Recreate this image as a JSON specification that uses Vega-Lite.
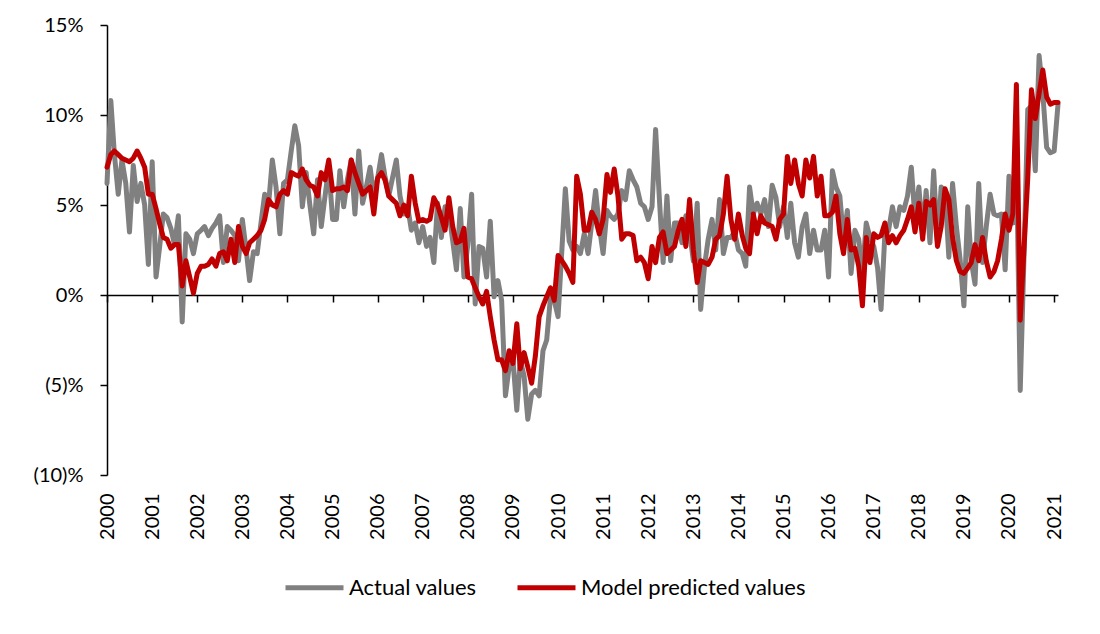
{
  "$schema": "https://vega.github.io/schema/vega-lite/v6.json",
  "autosize": "none",
  "width": 951,
  "height": 450,
  "padding": {"left": 107, "top": 25, "right": 42, "bottom": 159},
  "background": "white",
  "config": {"font": "Lato", "view": {"stroke": null}},
  "data": {"values": [
    {"d":"2000-01","a":6.2,"m":7.1},{"d":"2000-02","a":10.8,"m":7.8},{"d":"2000-03","a":7.8,"m":8.0},{"d":"2000-04","a":5.6,"m":7.8},{"d":"2000-05","a":7.5,"m":7.6},{"d":"2000-06","a":6.2,"m":7.5},{"d":"2000-07","a":3.5,"m":7.4},{"d":"2000-08","a":7.2,"m":7.6},{"d":"2000-09","a":5.2,"m":8.0},{"d":"2000-10","a":6.2,"m":7.6},{"d":"2000-11","a":5.0,"m":7.1},{"d":"2000-12","a":1.7,"m":5.6},
    {"d":"2001-01","a":7.4,"m":5.6},{"d":"2001-02","a":1.0,"m":4.8},{"d":"2001-03","a":2.6,"m":4.0},{"d":"2001-04","a":4.5,"m":3.2},{"d":"2001-05","a":4.3,"m":3.1},{"d":"2001-06","a":3.7,"m":2.6},{"d":"2001-07","a":2.8,"m":2.8},{"d":"2001-08","a":4.4,"m":2.8},{"d":"2001-09","a":-1.5,"m":0.5},{"d":"2001-10","a":3.4,"m":1.9},{"d":"2001-11","a":3.1,"m":1.0},{"d":"2001-12","a":2.3,"m":0.1},
    {"d":"2002-01","a":3.4,"m":1.2},{"d":"2002-02","a":3.6,"m":1.6},{"d":"2002-03","a":3.8,"m":1.6},{"d":"2002-04","a":3.3,"m":1.7},{"d":"2002-05","a":3.7,"m":2.0},{"d":"2002-06","a":4.0,"m":1.6},{"d":"2002-07","a":4.4,"m":2.3},{"d":"2002-08","a":1.8,"m":2.4},{"d":"2002-09","a":3.8,"m":1.9},{"d":"2002-10","a":3.6,"m":3.1},{"d":"2002-11","a":3.3,"m":1.8},{"d":"2002-12","a":1.9,"m":3.8},
    {"d":"2003-01","a":4.2,"m":2.7},{"d":"2003-02","a":2.5,"m":2.3},{"d":"2003-03","a":0.8,"m":2.9},{"d":"2003-04","a":2.4,"m":3.1},{"d":"2003-05","a":2.3,"m":3.3},{"d":"2003-06","a":4.0,"m":3.6},{"d":"2003-07","a":5.6,"m":4.2},{"d":"2003-08","a":5.0,"m":5.3},{"d":"2003-09","a":7.5,"m":5.0},{"d":"2003-10","a":6.0,"m":4.9},{"d":"2003-11","a":3.4,"m":5.6},{"d":"2003-12","a":6.2,"m":5.8},
    {"d":"2004-01","a":6.4,"m":5.6},{"d":"2004-02","a":8.0,"m":6.8},{"d":"2004-03","a":9.4,"m":6.7},{"d":"2004-04","a":8.3,"m":6.6},{"d":"2004-05","a":4.9,"m":7.0},{"d":"2004-06","a":6.8,"m":6.4},{"d":"2004-07","a":5.0,"m":6.1},{"d":"2004-08","a":3.4,"m":6.0},{"d":"2004-09","a":6.4,"m":5.5},{"d":"2004-10","a":3.8,"m":6.8},{"d":"2004-11","a":5.5,"m":6.4},{"d":"2004-12","a":7.1,"m":7.5},
    {"d":"2005-01","a":4.2,"m":5.8},{"d":"2005-02","a":4.2,"m":5.9},{"d":"2005-03","a":6.9,"m":5.9},{"d":"2005-04","a":4.9,"m":6.0},{"d":"2005-05","a":6.4,"m":5.8},{"d":"2005-06","a":7.5,"m":7.5},{"d":"2005-07","a":4.5,"m":6.8},{"d":"2005-08","a":8.0,"m":6.2},{"d":"2005-09","a":5.1,"m":5.6},{"d":"2005-10","a":6.0,"m":5.8},{"d":"2005-11","a":7.1,"m":6.0},{"d":"2005-12","a":5.5,"m":4.5},
    {"d":"2006-01","a":6.5,"m":6.5},{"d":"2006-02","a":7.8,"m":6.8},{"d":"2006-03","a":6.6,"m":6.4},{"d":"2006-04","a":5.5,"m":5.5},{"d":"2006-05","a":6.5,"m":5.3},{"d":"2006-06","a":7.5,"m":5.1},{"d":"2006-07","a":5.5,"m":4.4},{"d":"2006-08","a":4.5,"m":5.0},{"d":"2006-09","a":4.9,"m":4.4},{"d":"2006-10","a":3.6,"m":6.6},{"d":"2006-11","a":4.0,"m":5.1},{"d":"2006-12","a":2.9,"m":4.1},
    {"d":"2007-01","a":3.8,"m":4.2},{"d":"2007-02","a":2.7,"m":4.1},{"d":"2007-03","a":3.2,"m":4.2},{"d":"2007-04","a":1.8,"m":5.4},{"d":"2007-05","a":5.1,"m":5.0},{"d":"2007-06","a":3.2,"m":4.3},{"d":"2007-07","a":4.9,"m":3.6},{"d":"2007-08","a":4.6,"m":5.4},{"d":"2007-09","a":3.0,"m":3.8},{"d":"2007-10","a":1.4,"m":2.9},{"d":"2007-11","a":4.8,"m":3.0},{"d":"2007-12","a":1.0,"m":3.7},
    {"d":"2008-01","a":2.8,"m":1.0},{"d":"2008-02","a":5.6,"m":0.9},{"d":"2008-03","a":-0.5,"m":0.4},{"d":"2008-04","a":2.7,"m":-0.1},{"d":"2008-05","a":2.6,"m":-0.5},{"d":"2008-06","a":1.0,"m":0.2},{"d":"2008-07","a":4.1,"m":-1.2},{"d":"2008-08","a":-0.1,"m":-2.5},{"d":"2008-09","a":0.8,"m":-3.6},{"d":"2008-10","a":-0.3,"m":-3.6},{"d":"2008-11","a":-5.6,"m":-4.2},{"d":"2008-12","a":-4.0,"m":-3.1},
    {"d":"2009-01","a":-3.6,"m":-3.8},{"d":"2009-02","a":-6.4,"m":-1.6},{"d":"2009-03","a":-3.6,"m":-4.1},{"d":"2009-04","a":-4.5,"m":-3.2},{"d":"2009-05","a":-6.9,"m":-4.0},{"d":"2009-06","a":-5.5,"m":-4.9},{"d":"2009-07","a":-5.3,"m":-3.4},{"d":"2009-08","a":-5.6,"m":-1.2},{"d":"2009-09","a":-3.1,"m":-0.6},{"d":"2009-10","a":-2.5,"m":-0.1},{"d":"2009-11","a":-0.1,"m":0.4},{"d":"2009-12","a":-0.3,"m":-0.3},
    {"d":"2010-01","a":-1.2,"m":2.2},{"d":"2010-02","a":2.5,"m":1.9},{"d":"2010-03","a":5.9,"m":1.6},{"d":"2010-04","a":3.0,"m":1.2},{"d":"2010-05","a":2.5,"m":0.7},{"d":"2010-06","a":2.7,"m":6.6},{"d":"2010-07","a":2.3,"m":5.6},{"d":"2010-08","a":3.4,"m":3.6},{"d":"2010-09","a":2.3,"m":3.6},{"d":"2010-10","a":4.0,"m":4.6},{"d":"2010-11","a":5.8,"m":4.2},{"d":"2010-12","a":3.8,"m":3.4},
    {"d":"2011-01","a":2.3,"m":4.2},{"d":"2011-02","a":4.7,"m":6.7},{"d":"2011-03","a":4.4,"m":5.7},{"d":"2011-04","a":4.2,"m":7.0},{"d":"2011-05","a":4.5,"m":5.5},{"d":"2011-06","a":5.8,"m":3.1},{"d":"2011-07","a":5.3,"m":3.4},{"d":"2011-08","a":6.9,"m":3.4},{"d":"2011-09","a":6.4,"m":3.3},{"d":"2011-10","a":6.0,"m":1.9},{"d":"2011-11","a":5.1,"m":2.1},{"d":"2011-12","a":4.9,"m":1.8},
    {"d":"2012-01","a":4.2,"m":0.9},{"d":"2012-02","a":4.9,"m":2.7},{"d":"2012-03","a":9.2,"m":1.8},{"d":"2012-04","a":5.3,"m":3.2},{"d":"2012-05","a":1.8,"m":3.5},{"d":"2012-06","a":5.5,"m":2.3},{"d":"2012-07","a":1.9,"m":2.5},{"d":"2012-08","a":4.0,"m":2.7},{"d":"2012-09","a":4.0,"m":3.6},{"d":"2012-10","a":2.9,"m":4.2},{"d":"2012-11","a":4.4,"m":2.7},{"d":"2012-12","a":3.5,"m":5.3},
    {"d":"2013-01","a":1.9,"m":2.5},{"d":"2013-02","a":5.1,"m":0.7},{"d":"2013-03","a":-0.8,"m":1.9},{"d":"2013-04","a":1.6,"m":1.8},{"d":"2013-05","a":3.1,"m":1.7},{"d":"2013-06","a":4.2,"m":2.1},{"d":"2013-07","a":2.5,"m":3.1},{"d":"2013-08","a":5.3,"m":3.3},{"d":"2013-09","a":2.3,"m":4.5},{"d":"2013-10","a":3.2,"m":6.6},{"d":"2013-11","a":3.2,"m":4.2},{"d":"2013-12","a":3.5,"m":3.1},
    {"d":"2014-01","a":2.5,"m":4.5},{"d":"2014-02","a":2.3,"m":3.3},{"d":"2014-03","a":1.6,"m":2.6},{"d":"2014-04","a":6.0,"m":2.3},{"d":"2014-05","a":4.5,"m":4.5},{"d":"2014-06","a":5.1,"m":3.4},{"d":"2014-07","a":4.5,"m":4.4},{"d":"2014-08","a":5.3,"m":4.0},{"d":"2014-09","a":3.8,"m":3.9},{"d":"2014-10","a":6.1,"m":3.8},{"d":"2014-11","a":5.4,"m":3.1},{"d":"2014-12","a":3.8,"m":4.2},
    {"d":"2015-01","a":4.9,"m":4.5},{"d":"2015-02","a":3.2,"m":7.7},{"d":"2015-03","a":5.1,"m":6.2},{"d":"2015-04","a":2.9,"m":7.5},{"d":"2015-05","a":2.1,"m":6.2},{"d":"2015-06","a":3.8,"m":5.5},{"d":"2015-07","a":4.5,"m":7.5},{"d":"2015-08","a":2.3,"m":6.5},{"d":"2015-09","a":3.6,"m":7.7},{"d":"2015-10","a":2.5,"m":5.5},{"d":"2015-11","a":2.5,"m":6.6},{"d":"2015-12","a":3.6,"m":4.4},
    {"d":"2016-01","a":1.0,"m":4.4},{"d":"2016-02","a":6.9,"m":4.6},{"d":"2016-03","a":6.0,"m":5.5},{"d":"2016-04","a":5.5,"m":3.4},{"d":"2016-05","a":3.1,"m":2.3},{"d":"2016-06","a":4.7,"m":4.2},{"d":"2016-07","a":1.2,"m":2.5},{"d":"2016-08","a":3.6,"m":2.6},{"d":"2016-09","a":3.1,"m":1.6},{"d":"2016-10","a":1.2,"m":-0.6},{"d":"2016-11","a":4.0,"m":3.2},{"d":"2016-12","a":3.2,"m":1.8},
    {"d":"2017-01","a":2.7,"m":3.4},{"d":"2017-02","a":1.5,"m":3.2},{"d":"2017-03","a":-0.8,"m":3.3},{"d":"2017-04","a":3.4,"m":4.0},{"d":"2017-05","a":3.6,"m":2.9},{"d":"2017-06","a":4.9,"m":3.3},{"d":"2017-07","a":3.8,"m":2.9},{"d":"2017-08","a":4.9,"m":3.3},{"d":"2017-09","a":4.7,"m":3.6},{"d":"2017-10","a":5.5,"m":4.2},{"d":"2017-11","a":7.1,"m":4.9},{"d":"2017-12","a":4.2,"m":3.5},
    {"d":"2018-01","a":6.0,"m":5.1},{"d":"2018-02","a":3.4,"m":3.1},{"d":"2018-03","a":5.8,"m":5.2},{"d":"2018-04","a":2.9,"m":5.0},{"d":"2018-05","a":6.9,"m":5.3},{"d":"2018-06","a":2.9,"m":2.7},{"d":"2018-07","a":6.0,"m":3.8},{"d":"2018-08","a":5.8,"m":5.9},{"d":"2018-09","a":2.1,"m":5.3},{"d":"2018-10","a":6.2,"m":3.2},{"d":"2018-11","a":3.8,"m":1.9},{"d":"2018-12","a":2.0,"m":1.3},
    {"d":"2019-01","a":-0.6,"m":1.2},{"d":"2019-02","a":4.9,"m":1.5},{"d":"2019-03","a":1.9,"m":1.8},{"d":"2019-04","a":0.6,"m":2.8},{"d":"2019-05","a":6.2,"m":1.9},{"d":"2019-06","a":1.8,"m":3.2},{"d":"2019-07","a":3.8,"m":1.9},{"d":"2019-08","a":5.6,"m":1.0},{"d":"2019-09","a":4.5,"m":1.3},{"d":"2019-10","a":4.4,"m":1.9},{"d":"2019-11","a":4.5,"m":3.1},{"d":"2019-12","a":1.4,"m":4.5},
    {"d":"2020-01","a":6.6,"m":3.6},{"d":"2020-02","a":4.0,"m":4.5},{"d":"2020-03","a":7.9,"m":11.7},{"d":"2020-04","a":-5.3,"m":-1.4},{"d":"2020-05","a":2.0,"m":2.5},{"d":"2020-06","a":10.3,"m":6.5},{"d":"2020-07","a":10.5,"m":11.4},{"d":"2020-08","a":6.9,"m":9.8},{"d":"2020-09","a":13.3,"m":11.2},{"d":"2020-10","a":11.2,"m":12.5},{"d":"2020-11","a":8.2,"m":11.0},{"d":"2020-12","a":7.9,"m":10.6},
    {"d":"2021-01","a":8.0,"m":10.7},{"d":"2021-02","a":10.6,"m":10.7}
  ]},
  "encoding": {
    "x": {
      "field": "d", "type": "temporal",
      "scale": {"type": "utc", "domain": [{"year": 2000, "month": 1, "date": 1, "utc": true}, {"year": 2021, "month": 2, "date": 1, "utc": true}]},
      "axis": {
        "title": null, "orient": "bottom", "offset": -180,
        "values": [
          {"year": 2000, "month": 1, "date": 1, "utc": true},{"year": 2001, "month": 1, "date": 1, "utc": true},{"year": 2002, "month": 1, "date": 1, "utc": true},{"year": 2003, "month": 1, "date": 1, "utc": true},{"year": 2004, "month": 1, "date": 1, "utc": true},{"year": 2005, "month": 1, "date": 1, "utc": true},{"year": 2006, "month": 1, "date": 1, "utc": true},{"year": 2007, "month": 1, "date": 1, "utc": true},{"year": 2008, "month": 1, "date": 1, "utc": true},{"year": 2009, "month": 1, "date": 1, "utc": true},{"year": 2010, "month": 1, "date": 1, "utc": true},{"year": 2011, "month": 1, "date": 1, "utc": true},{"year": 2012, "month": 1, "date": 1, "utc": true},{"year": 2013, "month": 1, "date": 1, "utc": true},{"year": 2014, "month": 1, "date": 1, "utc": true},{"year": 2015, "month": 1, "date": 1, "utc": true},{"year": 2016, "month": 1, "date": 1, "utc": true},{"year": 2017, "month": 1, "date": 1, "utc": true},{"year": 2018, "month": 1, "date": 1, "utc": true},{"year": 2019, "month": 1, "date": 1, "utc": true},{"year": 2020, "month": 1, "date": 1, "utc": true},{"year": 2021, "month": 1, "date": 1, "utc": true}
        ],
        "format": "%Y", "formatType": "utc",
        "grid": false, "domainColor": "black", "domainWidth": 1.5,
        "tickColor": "black", "tickWidth": 1.5, "tickSize": 7,
        "labelAngle": 270, "labelPadding": 191, "labelFontSize": 20, "labelColor": "black",
        "labelFlush": false, "labelOverlap": false, "labelBound": false, "zindex": 0
      }
    }
  },
  "layer": [
    {
      "mark": {"type": "line", "strokeWidth": 5, "strokeJoin": "round", "strokeCap": "round"},
      "encoding": {
        "y": {
          "field": "a", "type": "quantitative",
          "scale": {"domain": [-10, 15], "nice": false, "zero": false},
          "axis": {
            "title": null, "values": [-10, -5, 0, 5, 10, 15],
            "labelExpr": "datum.value < 0 ? '(' + abs(datum.value) + ')%' : datum.value + '%'",
            "grid": false, "domainColor": "black", "domainWidth": 1.5,
            "tickColor": "black", "tickWidth": 1.5, "tickSize": 7,
            "labelPadding": 17, "labelFontSize": 20, "labelColor": "black"
          }
        },
        "color": {
          "datum": "Actual values",
          "scale": {"domain": ["Actual values", "Model predicted values"], "range": ["#808080", "#C00000"]},
          "legend": {
            "orient": "none", "legendX": 176, "legendY": 531, "direction": "horizontal",
            "title": null, "symbolType": "stroke", "symbolSize": 3364, "symbolStrokeWidth": 5,
            "labelFontSize": 22, "labelColor": "black", "labelOffset": 3, "labelLimit": 500,
            "columnPadding": 30, "padding": 0
          }
        }
      }
    },
    {
      "mark": {"type": "line", "strokeWidth": 5, "strokeJoin": "round", "strokeCap": "round"},
      "encoding": {
        "y": {"field": "m", "type": "quantitative"},
        "color": {"datum": "Model predicted values"}
      }
    }
  ]
}
